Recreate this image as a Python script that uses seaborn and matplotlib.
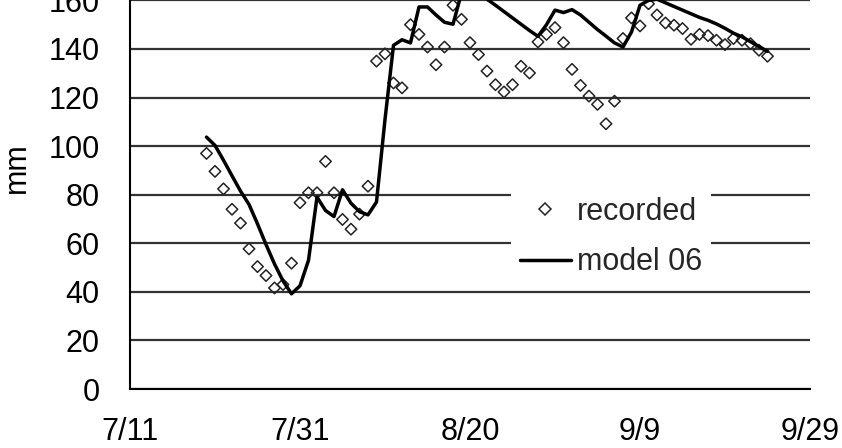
import matplotlib
matplotlib.use("Agg")
import matplotlib.pyplot as plt
import matplotlib.dates as mdates
from matplotlib.lines import Line2D
from matplotlib.ticker import FuncFormatter, FixedLocator
import seaborn as sns
import pandas as pd

# ---- data ----
recorded_start = "2006-07-20"
recorded_end = "2006-09-24"
recorded_values = [97, 89.6, 82.4, 74, 68.3, 57.7, 50.4, 46.7, 41.6, 43,
                   51.8, 76.7, 80.8, 80.8, 93.7, 80.8, 69.8, 65.8, 72, 83.5,
                   135, 138, 126, 124, 150, 146, 140.8, 133.5, 140.8, 158,
                   152.2, 142.6, 137.7, 130.9, 125.3, 122.3, 125.3, 132.9, 130.1, 142.9,
                   146, 148.8, 142.6, 131.6, 125, 120.6, 117.2, 109.2, 118.5, 144.3,
                   152.8, 149.5, 158.6, 154, 150.7, 149.8, 148.4, 144, 146, 145.5,
                   143.6, 141.8, 144.3, 143.6, 142.2, 139.5, 137]
model_values = [103.7, 100.3, 94.2, 87.8, 81.5, 76, 68, 59.5, 51.5, 44.5,
                39.2, 42.5, 53, 79, 73.5, 71, 82, 76.5, 73, 71.7,
                77, 111, 141.5, 143.8, 142.5, 157.3, 157.3, 154, 151, 150.2,
                163, 165, 163, 160.5, 158, 155.4, 152.8, 150.2, 147.6, 145.2,
                150, 156, 155, 156.2, 154, 151, 148, 145.3, 142.5, 140.8,
                147, 158, 160, 160.5, 159, 157.5, 156, 154.5, 153, 151.8,
                150.3, 148.5, 146.5, 145, 143, 141, 139]
x_ticks = ["2006-07-11", "2006-07-31", "2006-08-20", "2006-09-09", "2006-09-29"]
y_ticks = [0, 20, 40, 60, 80, 100, 120, 140, 160]
series_labels = ["recorded", "model 06"]
y_label = "mm"

dates = pd.date_range(recorded_start, recorded_end, freq="D")
df = pd.DataFrame({"date": dates, "recorded": recorded_values, "model": model_values})

# ---- style ----
sns.set_style("white")
plt.rcParams["font.family"] = ["Liberation Sans", "DejaVu Sans"]
FS = 22

fig = plt.figure(figsize=(8.42, 4.48), dpi=100)
ax = fig.add_axes([130 / 842, 59 / 448, 680 / 842, 388.6 / 448])

sns.scatterplot(data=df, x="date", y="recorded", ax=ax, marker="D", s=34,
                facecolor="none", edgecolor="#222222", linewidth=1.1, zorder=3,
                legend=False)
sns.lineplot(data=df, x="date", y="model", ax=ax, color="black", linewidth=2.5,
             zorder=4, legend=False)

tick_dates = pd.to_datetime(x_ticks)
ax.set_xlim(mdates.date2num(tick_dates[0]), mdates.date2num(tick_dates[-1]))
ax.xaxis.set_major_locator(FixedLocator(mdates.date2num(tick_dates)))
ax.xaxis.set_major_formatter(FuncFormatter(
    lambda v, p: f"{mdates.num2date(v).month}/{mdates.num2date(v).day}"))
ax.set_ylim(y_ticks[0], y_ticks[-1])
ax.set_yticks(y_ticks)

ax.yaxis.grid(True, color="#333333", linewidth=1.6)
ax.xaxis.grid(False)
ax.set_axisbelow(True)

for s in ["top", "right"]:
    ax.spines[s].set_visible(False)
for s in ["left", "bottom"]:
    ax.spines[s].set_color("black")
    ax.spines[s].set_linewidth(1.5)

ax.tick_params(axis="both", direction="out", length=10, width=1.5, color="black",
               labelsize=FS, labelcolor="black")
ax.tick_params(axis="y", pad=12)
ax.tick_params(axis="x", pad=10)

ax.set_xlabel("")
ax.set_ylabel(y_label, fontsize=FS, color="black")
ax.yaxis.label.set_va("center")
ax.yaxis.set_label_coords((17 - 130) / 680, (389 - 168) / 388.6)

handles = [
    Line2D([], [], linestyle="none", marker="D", markersize=5.8,
           markerfacecolor="none", markeredgecolor="#222222", markeredgewidth=1.1),
    Line2D([], [], color="black", linewidth=2.5),
]
leg = ax.legend(handles, series_labels, loc="center",
                bbox_to_anchor=((611 - 130) / 680, (389 - 237) / 388.6),
                fontsize=FS, frameon=True, facecolor="white", edgecolor="none",
                framealpha=1, fancybox=False, handlelength=1.65, handletextpad=0.2,
                labelspacing=0.68, borderpad=0.3)
leg.set_zorder(5)

fig.savefig("out.png", dpi=100)
